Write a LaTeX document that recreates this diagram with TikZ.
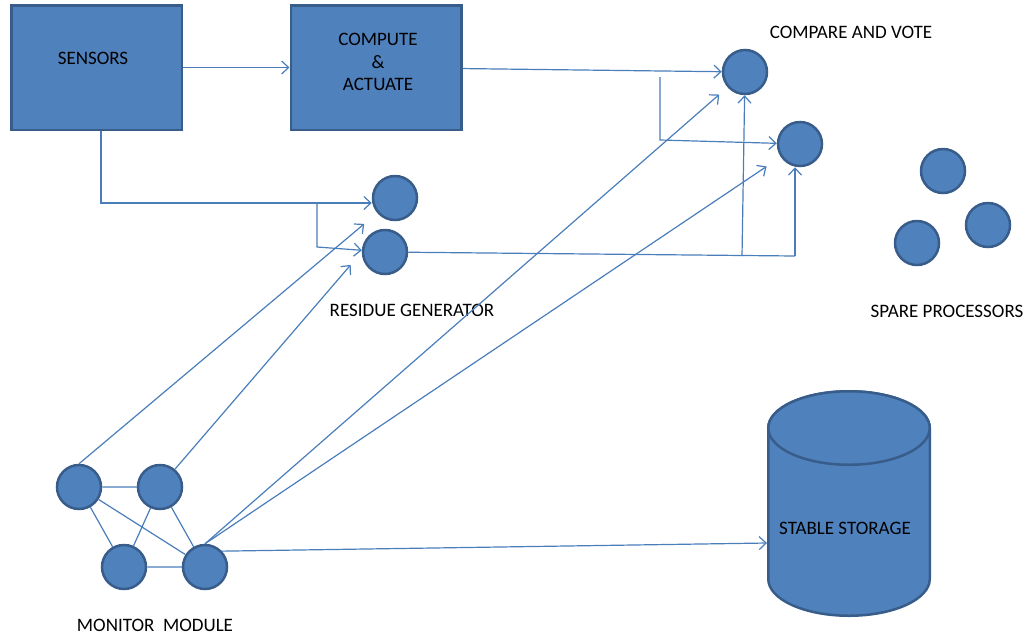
\documentclass[tikz,border=0pt]{standalone}
\usepackage{fontspec}
\setmainfont{Carlito}
\usetikzlibrary{arrows.meta}
\definecolor{boxblue}{HTML}{4F81BD}
\definecolor{edgeblue}{HTML}{385D8A}
\definecolor{lineblue}{HTML}{4A7EBB}
\begin{document}
\begin{tikzpicture}
        [
        x=1pt, y=-1pt,
        Block/.style={rectangle,draw=edgeblue,fill=boxblue,line width=2.5pt, minimum width=170.5, minimum height=124.5},
        Proc/.style={circle,draw=edgeblue,fill=boxblue,line width=2.5pt, minimum size=44},
        Drum/.style={draw=edgeblue,fill=boxblue,line width=2.5pt},
        Tag/.style={rectangle,align=center,text=black,font=\fontsize{19}{22.5}\selectfont},
        Link/.style={draw=lineblue,line width=1.2pt},
        Conn/.style={Link,-{Straight Barb[length=7pt,width=13pt]}},
        ]
    \useasboundingbox (0,0) rectangle (1027,638);

        \node[Block] (n1) at (96.5, 67.5){};
        \node[Tag] (tag1) at (93, 58){SENSORS};
        \node[Block] (n2) at (376, 67.5){};
        \node[Tag] (tag2) at (378, 62){COMPUTE\\\&\\ACTUATE};

\node[Proc] (r1) at (395, 198){};
\node[Proc] (r2) at (385, 252){};
\node[Tag] (tag3) at (412, 310){RESIDUE GENERATOR};

\node[Proc] (c1) at (745, 72){};
\node[Proc] (c2) at (800, 144){};
\node[Tag] (tag4) at (851, 32){COMPARE AND VOTE};

\node[Proc] (p1) at (943, 171){};
\node[Proc] (p2) at (988, 225){};
\node[Proc] (p3) at (917, 243){};
\node[Tag] (tag5) at (947, 311){SPARE PROCESSORS};

\node[Proc] (m1) at (79, 487){};
\node[Proc] (m2) at (160, 487){};
\node[Proc] (m3) at (124, 567){};
\node[Proc] (m4) at (205, 567){};
\node[Tag] (tag6) at (155, 625){MONITOR~~MODULE};

% storage drum: body, then the top face
\filldraw[Drum] (768.25, 428) -- (768.25, 579) arc[start angle=180, end angle=0, x radius=80.75, y radius=36.75]
    -- (929.75, 428) arc[start angle=0, end angle=-180, x radius=80.75, y radius=36.75] -- cycle;
\draw[Drum] (849, 428) ellipse [x radius=80.75, y radius=36.75];
\node[Tag] (st) at (845, 528){STABLE STORAGE};
\coordinate (stin) at (767, 543);

% sensor and compute paths
\draw[Conn] (n1) -- (n2);
\draw[Conn] ([xshift=4.5]n1.south) |- ([yshift=-5]r1.west);
\coordinate (s1) at (317, 203);
\draw[Conn] (s1) -- ++(0, 44) -- (r2);
\draw[Conn] (n2) -- (c1);
\coordinate (s2) at (660, 77);
\draw[Conn] (s2) -- ++(0, 63) -- (c2);

% residue to voters
\coordinate (j1) at (742, 256);
\coordinate (j2) at (795, 256);
\draw[Link] (r2) -- (j2);
\draw[Conn] (j1) -- (c1);
\draw[Conn] (j2) -- (j2 |- c2.south);

% monitor module
\draw[Link] (m1) -- (m2) (m3) -- (m4) (m1) -- (m3) (m1) -- (m4) (m2) -- (m3) (m2) -- (m4);
\draw[Conn, shorten >=17pt] (m1.north) -- (r1);
\draw[Conn, shorten >=17pt] (m2.50) -- (r2.west);
\draw[Conn, shorten >=11pt] (m4.north) -- (c1);
\draw[Conn, shorten >=17pt] (m4.north) -- (c2);
\draw[Conn] (m4.43) -- (stin);

    \end{tikzpicture}
\end{document}
